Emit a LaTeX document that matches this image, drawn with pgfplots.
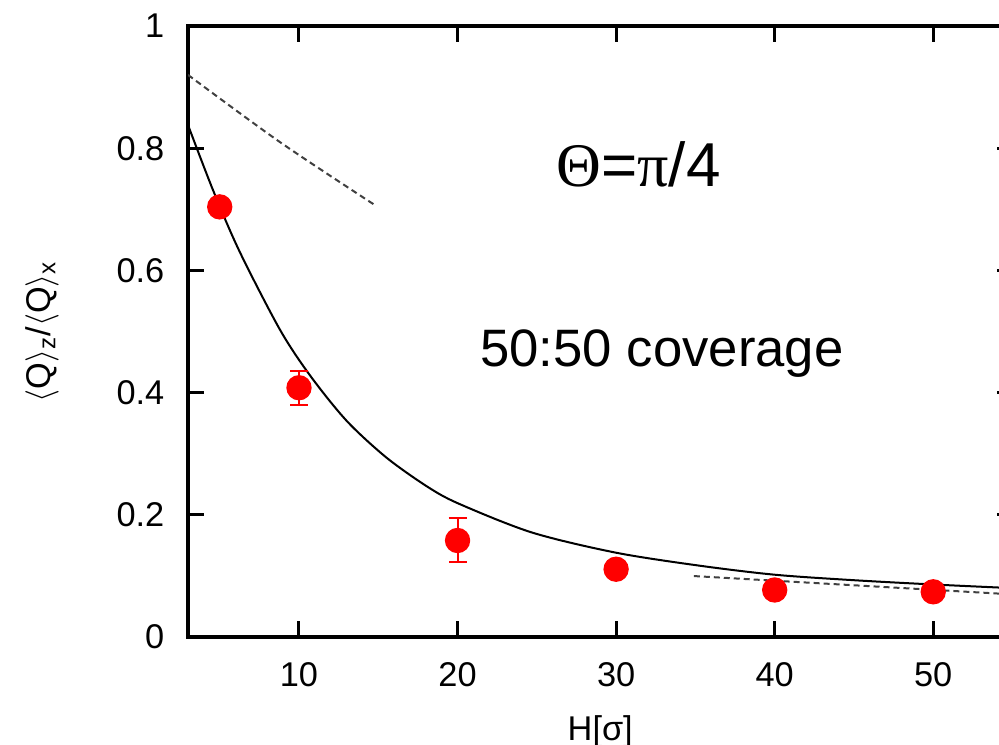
\documentclass[border=0pt]{standalone}
\usepackage{pgfplots}
\pgfplotsset{compat=1.18}
\usepackage{fontspec}
\setmainfont{Liberation Sans}
\newfontfamily\greekserif{Liberation Serif}
\usetikzlibrary{calc}

\begin{document}
\begin{tikzpicture}
\begin{axis}[
  scale only axis,
  width=247.35pt, height=183.3pt,
  xmin=3, xmax=55, ymin=0, ymax=1,
  xtick={10,20,30,40,50},
  ytick={0,0.2,0.4,0.6,0.8,1},
  tick align=inside,
  major tick length=4.8pt,
  every tick/.style={black, line width=0.9pt},
  axis line style={line width=1pt},
  /pgf/number format/assume math mode=true,
  ticklabel style={font=\fontsize{10.3}{12}\selectfont},
  xticklabel style={inner sep=0pt, yshift=-7.5pt},
  yticklabel style={inner sep=0pt, xshift=-6.9pt},
  xlabel={H[σ]},
  xlabel style={at={(axis description cs:0.5,-0.128)}, anchor=north, inner sep=0pt,
    font=\fontsize{10.3}{12}\selectfont},
  ylabel={$\langle$Q$\rangle$\textsubscript{z}/$\langle$Q$\rangle$\textsubscript{x}},
  ylabel style={at={(axis description cs:-0.177,0.5)}, anchor=center, inner sep=0pt,
    font=\fontsize{10.3}{12}\selectfont},
]
% model curve
\addplot[black, line width=0.6pt, smooth] coordinates {
  (3,0.838) (4.6,0.730) (6.27,0.630) (8.8,0.503) (10.7,0.428) (13,0.354)
  (15.5,0.294) (18.1,0.246) (20.1,0.218) (24.7,0.171) (30,0.138) (35.2,0.117)
  (40,0.102) (45,0.093) (50,0.086) (55,0.080)
};
% small-H asymptote
\addplot[black!75, line width=0.6pt, dash pattern=on 1.8pt off 1.2pt, smooth] coordinates {
  (3,0.920) (8.8,0.810) (14.9,0.705)
};
% large-H asymptote
\addplot[black!75, line width=0.6pt, dash pattern=on 1.8pt off 1.2pt] coordinates {
  (34.9,0.0998) (55,0.0698)
};
% simulation data
\addplot[only marks, mark=*, mark size=3.6pt, color=red,
  mark options={draw=red, fill=red},
  error bars/.cd, y dir=both, y explicit,
  error bar style={line width=0.6pt, red},
  error mark options={rotate=90, mark size=2.7pt, line width=0.6pt, red}]
coordinates {
  (5,0.704) +- (0,0)
  (10,0.408) +- (0,0.028)
  (20,0.158) +- (0,0.036)
  (30,0.111) +- (0,0)
  (40,0.077) +- (0,0)
  (50,0.074) +- (0,0)
};
\node[anchor=base west, inner sep=0pt, font=\fontsize{18.6}{22}\selectfont]
  at (axis cs:26.2,0.738) {{\greekserif Θ}={\greekserif π}/4};
\node[anchor=base west, inner sep=0pt, font=\fontsize{15.8}{19}\selectfont]
  at (axis cs:21.4,0.442) {50:50 coverage};
\coordinate (ll) at (rel axis cs:0,0);
\coordinate (ur) at (rel axis cs:1,1);
\end{axis}
\pgfresetboundingbox
\useasboundingbox ($(ll)+(-56.4pt,-32.1pt)$) rectangle ($(ur)+(-4.05pt,7.8pt)$);
\end{tikzpicture}
\end{document}
